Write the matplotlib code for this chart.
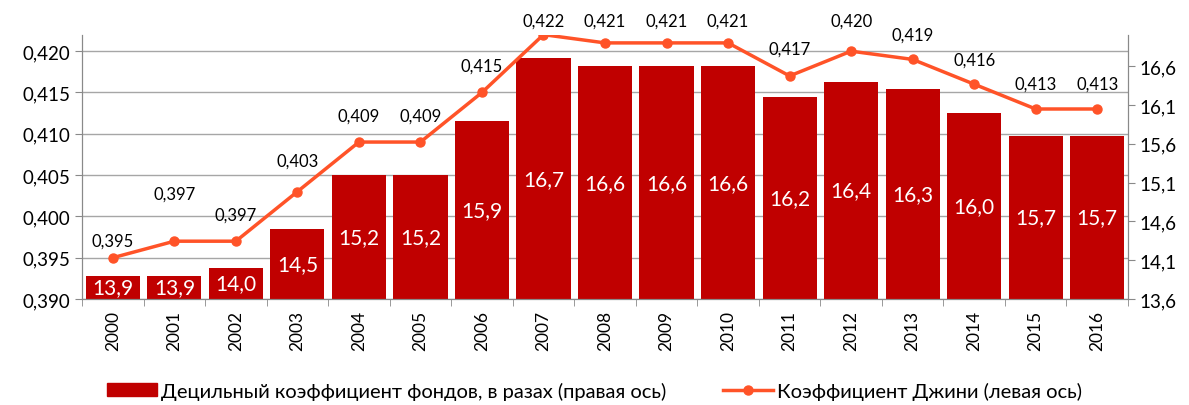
import matplotlib
matplotlib.use("Agg")
import matplotlib.pyplot as plt
import matplotlib.transforms as mtransforms
import numpy as np

plt.rcParams['font.family'] = ['Lato', 'DejaVu Sans']

years = ['2000', '2001', '2002', '2003', '2004', '2005', '2006', '2007', '2008',
         '2009', '2010', '2011', '2012', '2013', '2014', '2015', '2016']
decile = [13.9, 13.9, 14.0, 14.5, 15.2, 15.2, 15.9, 16.7, 16.6,
          16.6, 16.6, 16.2, 16.4, 16.3, 16.0, 15.7, 15.7]
gini = [0.395, 0.397, 0.397, 0.403, 0.409, 0.409, 0.415, 0.422, 0.421,
        0.421, 0.421, 0.417, 0.420, 0.419, 0.416, 0.413, 0.413]
left_ticks = [0.390, 0.395, 0.400, 0.405, 0.410, 0.415, 0.420]
right_ticks = [13.6, 14.1, 14.6, 15.1, 15.6, 16.1, 16.6]

# label offsets above the points (in points)
label_dy = [12, 34, 19, 22, 19, 19, 19, 10, 16, 16, 16, 20, 22, 18, 18, 18, 18]

bar_color = '#C00000'
line_color = '#FF5328'
axis_grey = '#898989'

def comma(v, fmt):
    return (fmt % v).replace('.', ',')

fig = plt.figure(figsize=(11.89, 4.06), dpi=100)
ax = fig.add_axes([0.069, 0.261, 0.8797, 0.65])   # bars, right axis
ax2 = ax.twinx()                                    # gini line, left axis

x = np.arange(len(years))

# gridlines follow the left axis, drawn behind the bars
tr = mtransforms.blended_transform_factory(ax.transAxes, ax2.transData)
for t in left_ticks:
    ax.plot([0, 1], [t, t], transform=tr, color='#A6A6A6', lw=1, zorder=0)

ax.bar(x, [d - 13.6 for d in decile], bottom=13.6, width=0.88, color=bar_color, zorder=2)
ax.set_ylim(13.6, 17.0)
ax.set_xlim(-0.5, len(years) - 0.5)
ax.yaxis.tick_right()
ax.set_yticks(right_ticks)
ax.set_yticklabels([comma(v, '%.1f') for v in right_ticks], fontsize=13.5)
for xi, d in zip(x, decile):
    ax.text(xi, (13.6 + d) / 2, comma(d, '%.1f'), ha='center', va='center',
            color='white', fontsize=15, zorder=3)

ax2.plot(x, gini, color=line_color, lw=2.5, marker='o', markersize=6.5, zorder=3,
         label='Коэффициент Джини (левая ось)')
ax2.set_ylim(0.390, 0.42194)
ax2.yaxis.tick_left()
ax2.yaxis.set_label_position('left')
ax2.set_yticks(left_ticks)
ax2.set_yticklabels([comma(v, '%.3f') for v in left_ticks], fontsize=13.5)
for xi, g, dy in zip(x, gini, label_dy):
    ax2.annotate(comma(g, '%.3f'), (xi, g), xytext=(0, dy), textcoords='offset points',
                 ha='center', va='center', fontsize=12, color='black')

ax.set_xticks(x)
ax.set_xticklabels(years, rotation=90, fontsize=12.5)
ax.set_xticks(np.arange(-0.5, len(years)), minor=True)
ax.tick_params(axis='x', which='major', length=0, pad=8)
ax.tick_params(axis='x', which='minor', length=5, color=axis_grey)
ax.tick_params(axis='y', length=5, color=axis_grey)
ax2.tick_params(axis='y', length=5, color=axis_grey)

for a in (ax, ax2):
    a.spines['top'].set_visible(False)
    for s in ('left', 'right', 'bottom'):
        a.spines[s].set_color(axis_grey)

handles = [plt.Rectangle((0, 0), 1, 1, color=bar_color),
           ax2.get_lines()[0]]
labels = ['Децильный коэффициент фондов, в разах (правая ось)',
          'Коэффициент Джини (левая ось)']
fig.legend(handles, labels, loc='lower center', bbox_to_anchor=(0.5, -0.032), ncol=2,
           frameon=False, fontsize=14.5, handlelength=2.5, handleheight=0.6,
           columnspacing=2.8, handletextpad=0.2)

fig.savefig('out.png', dpi=100)
